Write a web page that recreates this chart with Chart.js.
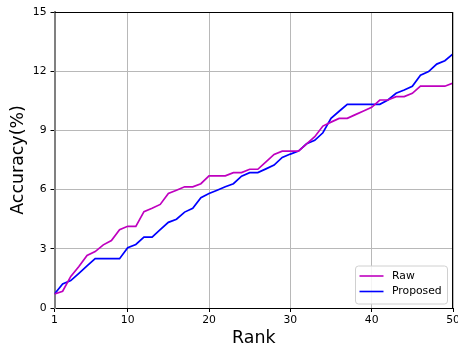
<!DOCTYPE html>
<html>
<head>
<meta charset="utf-8">
<script src="https://cdn.jsdelivr.net/npm/chart.js@4/dist/chart.umd.min.js"></script>
<style>
  html, body { margin: 0; padding: 0; background: #fff; }
  #wrap { width: 458px; height: 352px; }
</style>
</head>
<body>
<div id="wrap"><canvas id="c" width="458" height="352"></canvas></div>
<script>
// Rank 1..50
const ranks = Array.from({ length: 50 }, (_, i) => i + 1);

// Accuracy (%) per rank
const rawAcc = [
  0.71, 0.85, 1.6, 2.1, 2.66, 2.86, 3.2, 3.42, 3.97, 4.14,
  4.14, 4.88, 5.05, 5.25, 5.8, 5.97, 6.14, 6.14, 6.3, 6.7,
  6.7, 6.7, 6.86, 6.86, 7.03, 7.03, 7.4, 7.78, 7.95, 7.95,
  7.95, 8.32, 8.68, 9.22, 9.42, 9.61, 9.61, 9.8, 9.98, 10.17,
  10.54, 10.54, 10.71, 10.71, 10.88, 11.24, 11.24, 11.24, 11.24, 11.4
];
const proposedAcc = [
  0.71, 1.22, 1.39, 1.76, 2.14, 2.5, 2.5, 2.5, 2.5, 3.05,
  3.22, 3.59, 3.59, 3.97, 4.34, 4.5, 4.86, 5.05, 5.59, 5.8,
  5.97, 6.14, 6.3, 6.68, 6.86, 6.86, 7.05, 7.24, 7.63, 7.8,
  7.95, 8.32, 8.5, 8.88, 9.61, 9.97, 10.32, 10.32, 10.32, 10.32,
  10.32, 10.54, 10.88, 11.05, 11.24, 11.8, 11.98, 12.36, 12.53, 12.88
];

const xTicks = [1, 10, 20, 30, 40, 50];
const yTicks = [0, 3, 6, 9, 12, 15];

const FONT = "'DejaVu Sans', sans-serif";

// Frame around the plot + boxed legend in the lower-right corner
const framePlugin = {
  id: 'frame',
  afterDraw(chart) {
    const { ctx, chartArea: a } = chart;
    ctx.save();
    ctx.strokeStyle = '#000';
    ctx.lineWidth = 1;
    ctx.beginPath();
    ctx.moveTo(a.left, a.top + 0.5);
    ctx.lineTo(a.right, a.top + 0.5);
    ctx.moveTo(a.right - 0.5, a.top);
    ctx.lineTo(a.right - 0.5, a.bottom);
    ctx.stroke();

    // legend
    const bx = 355.5, by = 266, bw = 92, bh = 38, r = 3;
    ctx.fillStyle = 'rgba(255,255,255,0.85)';
    ctx.strokeStyle = '#d0d0d0';
    ctx.lineWidth = 1;
    ctx.beginPath();
    ctx.moveTo(bx + r, by);
    ctx.lineTo(bx + bw - r, by);
    ctx.quadraticCurveTo(bx + bw, by, bx + bw, by + r);
    ctx.lineTo(bx + bw, by + bh - r);
    ctx.quadraticCurveTo(bx + bw, by + bh, bx + bw - r, by + bh);
    ctx.lineTo(bx + r, by + bh);
    ctx.quadraticCurveTo(bx, by + bh, bx, by + bh - r);
    ctx.lineTo(bx, by + r);
    ctx.quadraticCurveTo(bx, by, bx + r, by);
    ctx.closePath();
    ctx.fill();
    ctx.stroke();

    ctx.font = '10.8px ' + FONT;
    ctx.textBaseline = 'middle';
    ctx.fillStyle = '#000';
    chart.data.datasets.forEach((ds, i) => {
      const y = 276 + i * 15.5;
      ctx.strokeStyle = ds.borderColor;
      ctx.lineWidth = 1.6;
      ctx.beginPath();
      ctx.moveTo(359.5, y);
      ctx.lineTo(383.5, y);
      ctx.stroke();
      ctx.fillText(ds.label, 392, y);
    });
    ctx.restore();
  }
};

new Chart(document.getElementById('c'), {
  type: 'line',
  data: {
    datasets: [
      {
        label: 'Raw',
        data: ranks.map((r, i) => ({ x: r, y: rawAcc[i] })),
        borderColor: '#bf00bf',
        borderWidth: 1.7,
        pointRadius: 0,
        tension: 0,
        fill: false
      },
      {
        label: 'Proposed',
        data: ranks.map((r, i) => ({ x: r, y: proposedAcc[i] })),
        borderColor: '#0000ff',
        borderWidth: 1.7,
        pointRadius: 0,
        tension: 0,
        fill: false
      }
    ]
  },
  options: {
    responsive: false,
    animation: false,
    layout: { padding: { top: 12, right: 5, left: 0, bottom: 0 } },
    plugins: { legend: { display: false }, tooltip: { enabled: false } },
    scales: {
      x: {
        type: 'linear',
        min: 1,
        max: 50,
        afterBuildTicks(scale) { scale.ticks = xTicks.map(v => ({ value: v })); },
        afterFit(scale) {
          scale.height = 44;
          scale.paddingLeft = 0;
          scale.paddingRight = 0;
        },
        grid: { color: '#b8b8b8', lineWidth: 1, tickLength: 4, tickColor: '#000' },
        border: { color: '#000', width: 1 },
        ticks: { color: '#000', padding: 2, maxRotation: 0, font: { family: FONT, size: 10.8 } },
        title: {
          display: true, text: 'Rank', color: '#000',
          font: { family: FONT, size: 17.4 }, padding: { top: 0, bottom: 2.6 }
        }
      },
      y: {
        min: 0,
        max: 15,
        afterBuildTicks(scale) { scale.ticks = yTicks.map(v => ({ value: v })); },
        afterFit(scale) { scale.width = 54.5; },
        grid: { color: '#b8b8b8', lineWidth: 1, tickLength: 4, tickColor: '#000' },
        border: { color: '#808080', width: 2 },
        ticks: { color: '#000', padding: 4, font: { family: FONT, size: 10.8 } },
        title: {
          display: true, text: 'Accuracy(%)', color: '#000',
          font: { family: FONT, size: 17.4 }, padding: { top: 8, bottom: 0 }
        }
      }
    }
  },
  plugins: [framePlugin]
});
</script>
</body>
</html>
